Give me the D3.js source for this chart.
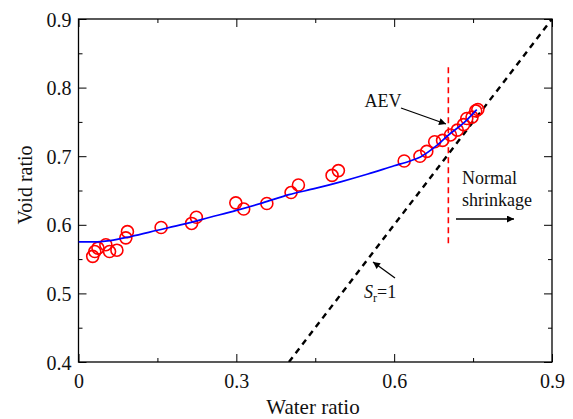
<!DOCTYPE html>
<html>
<head>
<meta charset="utf-8">
<script src="https://cdn.jsdelivr.net/npm/d3@7"></script>
<style>
  body { margin: 0; background: #fff; }
  svg { display: block; }
</style>
</head>
<body>
<svg id="chart" width="573" height="419"></svg>
<script>
// Measured drying path: water ratio vs void ratio
const waterRatio = [0.027, 0.031, 0.037, 0.052, 0.059, 0.073, 0.090, 0.093, 0.157, 0.215, 0.224,
  0.299, 0.314, 0.358, 0.404, 0.418, 0.482, 0.494, 0.619, 0.649, 0.662, 0.677, 0.692,
  0.707, 0.720, 0.732, 0.738, 0.748, 0.755, 0.759];
const voidRatio = [0.554, 0.561, 0.566, 0.571, 0.561, 0.563, 0.581, 0.590, 0.596, 0.602, 0.611,
  0.632, 0.623, 0.631, 0.647, 0.658, 0.672, 0.679, 0.693, 0.700, 0.707, 0.721, 0.723,
  0.731, 0.738, 0.746, 0.755, 0.757, 0.766, 0.768];

// Fitted shrinkage curve
const fitWater = [0, 0.03, 0.06, 0.10, 0.15, 0.20, 0.25, 0.30, 0.35, 0.40, 0.45, 0.50, 0.55,
  0.60, 0.63, 0.65, 0.68, 0.705, 0.73, 0.757];
const fitVoid = [0.575, 0.575, 0.577, 0.583, 0.592, 0.601, 0.611, 0.621, 0.632, 0.644, 0.653,
  0.663, 0.674, 0.686, 0.693, 0.699, 0.715, 0.732, 0.747, 0.768];

// Saturation line (Sr = 1) and air-entry value marker
const satWater = [0.4, 0.9];
const satVoid = [0.4, 0.9];
const aevWater = 0.703;
const aevVoidRange = [0.573, 0.830];

const xTicks = [0, 0.3, 0.6, 0.9];
const xMinor = [0.15, 0.45, 0.75];
const yTicks = [0.4, 0.5, 0.6, 0.7, 0.8, 0.9];
const yMinor = [0.45, 0.55, 0.65, 0.75, 0.85];

const SERIF = "'Liberation Serif', 'Times New Roman', Times, serif";
const svg = d3.select("#chart");
const L = 78.5, R = 552, T = 19, B = 362;
const x = d3.scaleLinear().domain([0, 0.9]).range([L, R]);
const y = d3.scaleLinear().domain([0.4, 0.9]).range([B, T]);

const defs = svg.append("defs");
defs.append("marker").attr("id", "arr").attr("viewBox", "0 0 10 10")
  .attr("refX", 10).attr("refY", 5).attr("markerWidth", 9).attr("markerHeight", 7)
  .attr("markerUnits", "userSpaceOnUse").attr("orient", "auto")
  .append("path").attr("d", "M0,0 L10,5 L0,10 Z").attr("fill", "#000");

defs.append("clipPath").attr("id", "plotclip").append("rect")
  .attr("x", L).attr("y", T).attr("width", R - L).attr("height", B - T);

// Axes with inward ticks on all four sides
const fmt = d => d === 0 ? "0" : d3.format(".1f")(d);
function axisPair(gen, pos, major, minor, labels) {
  const g = svg.append("g").attr("transform", pos);
  g.call(gen.tickValues(major).tickSizeInner(-8).tickSizeOuter(0).tickFormat(labels ? fmt : ""));
  g.select(".domain").remove();
  g.selectAll(".tick line").attr("stroke", "#000").attr("stroke-width", 1);
  const gm = svg.append("g").attr("transform", pos);
  gm.call(gen.tickValues(minor).tickSizeInner(-4).tickFormat(""));
  gm.select(".domain").remove();
  gm.selectAll(".tick line").attr("stroke", "#000").attr("stroke-width", 1);
  return g;
}
const gx = axisPair(d3.axisBottom(x), `translate(0,${B})`, xTicks, xMinor, true);
gx.attr("font-family", SERIF);
gx.selectAll(".tick text").attr("font-size", 20).attr("dy", 0).attr("y", 26)
  .style("font-family", SERIF).attr("fill", "#111");
axisPair(d3.axisTop(x), `translate(0,${T})`, xTicks, xMinor, false);
const gy = axisPair(d3.axisLeft(y), `translate(${L},0)`, yTicks, yMinor, true);
gy.attr("font-family", SERIF);
gy.selectAll(".tick text").attr("font-size", 20).attr("x", -7).attr("dy", "0.35em")
  .style("font-family", SERIF).attr("fill", "#111");
axisPair(d3.axisRight(y), `translate(${R},0)`, yTicks, yMinor, false);

svg.append("rect").attr("x", L).attr("y", T).attr("width", R - L).attr("height", B - T)
  .attr("fill", "none").attr("stroke", "#000").attr("stroke-width", 1.3);

const plot = svg.append("g").attr("clip-path", "url(#plotclip)");

// Sr = 1 line
plot.append("path")
  .datum(satWater.map((w, i) => [w, satVoid[i]]))
  .attr("d", d3.line().x(d => x(d[0])).y(d => y(d[1])))
  .attr("stroke", "#000").attr("stroke-width", 2.4).attr("stroke-dasharray", "6,5").attr("fill", "none");

// AEV marker
plot.append("line")
  .attr("x1", x(aevWater)).attr("x2", x(aevWater))
  .attr("y1", y(aevVoidRange[0])).attr("y2", y(aevVoidRange[1]))
  .attr("stroke", "#f00").attr("stroke-width", 1.6).attr("stroke-dasharray", "6,4");

// Measured points
plot.selectAll("circle.pt").data(waterRatio.map((w, i) => [w, voidRatio[i]]))
  .join("circle").attr("class", "pt")
  .attr("cx", d => x(d[0])).attr("cy", d => y(d[1])).attr("r", 6)
  .attr("fill", "none").attr("stroke", "#f00").attr("stroke-width", 1.6);

// Fitted curve
plot.append("path")
  .datum(fitWater.map((w, i) => [w, fitVoid[i]]))
  .attr("d", d3.line().x(d => x(d[0])).y(d => y(d[1])).curve(d3.curveMonotoneX))
  .attr("stroke", "#0000ff").attr("stroke-width", 1.7).attr("fill", "none");

// Annotations
const fs = 18;
const txt = (xx, yy, s) => svg.append("text").attr("x", xx).attr("y", yy)
  .style("font-family", SERIF).attr("font-size", fs).attr("fill", "#111").text(s);
txt(383, 107, "AEV").attr("text-anchor", "middle");
svg.append("line").attr("x1", 401).attr("y1", 108).attr("x2", 446).attr("y2", 124)
  .attr("stroke", "#000").attr("stroke-width", 1.3).attr("marker-end", "url(#arr)");

txt(462, 184, "Normal");
txt(462, 206, "shrinkage");
svg.append("line").attr("x1", 456).attr("y1", 219).attr("x2", 514).attr("y2", 219)
  .attr("stroke", "#000").attr("stroke-width", 1.3).attr("marker-end", "url(#arr)");

const sr = txt(364, 298, null);
sr.append("tspan").attr("font-style", "italic").text("S");
sr.append("tspan").attr("font-size", 12).attr("dy", 4).text("r");
sr.append("tspan").attr("dy", -4).text("=1");
svg.append("line").attr("x1", 395).attr("y1", 278).attr("x2", 373).attr("y2", 262)
  .attr("stroke", "#000").attr("stroke-width", 1.3).attr("marker-end", "url(#arr)");

// Axis titles
svg.append("text").attr("x", 313).attr("y", 414).attr("text-anchor", "middle")
  .style("font-family", SERIF).attr("font-size", 21).attr("fill", "#111").text("Water ratio");
svg.append("text").attr("transform", "translate(32,185) rotate(-90)")
  .attr("text-anchor", "middle").style("font-family", SERIF).attr("font-size", 20)
  .attr("fill", "#111").text("Void ratio");
</script>
</body>
</html>
